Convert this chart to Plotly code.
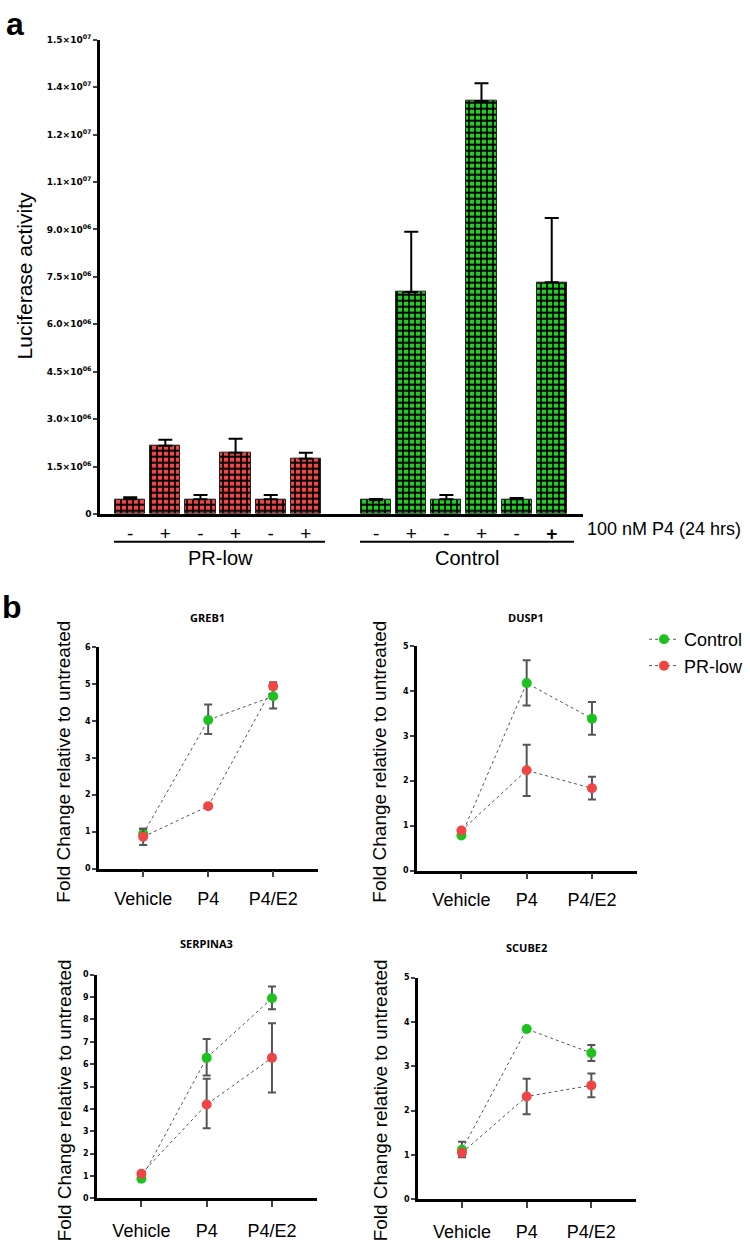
import plotly.graph_objects as go

W, H = 750, 1246

# ---------------- Panel a data ----------------
treat_labels = ["-", "+", "-", "+", "-", "+"]
control_labels = ["-", "+", "-", "+", "-", "<b>+</b>"]
prlow_pos = [0, 1, 2, 3, 4, 5]
control_pos = [7, 8, 9, 10, 11, 12]
prlow_means = [0.47e6, 2.16e6, 0.47e6, 1.94e6, 0.47e6, 1.75e6]
prlow_err = [0.06e6, 0.19e6, 0.13e6, 0.44e6, 0.13e6, 0.19e6]
control_means = [0.44e6, 7.02e6, 0.47e6, 13.06e6, 0.47e6, 7.33e6]
control_err = [0.04e6, 1.91e6, 0.13e6, 0.56e6, 0.04e6, 2.03e6]
a_ytickvals = [0, 1.5e6, 3.0e6, 4.5e6, 6.0e6, 7.5e6, 9.0e6, 10.5e6, 12e6, 13.5e6, 15e6]
a_yticktext = ["0", "1.5×10<sup>06</sup>", "3.0×10<sup>06</sup>", "4.5×10<sup>06</sup>",
               "6.0×10<sup>06</sup>", "7.5×10<sup>06</sup>", "9.0×10<sup>06</sup>",
               "1.1×10<sup>07</sup>", "1.2×10<sup>07</sup>", "1.4×10<sup>07</sup>",
               "1.5×10<sup>07</sup>"]

# ---------------- Panel b data ----------------
conditions = ["Vehicle", "P4", "P4/E2"]
cond_pos = [0, 1, 2]

greb1_control = [0.94, 4.02, 4.66]
greb1_control_hi = [0.14, 0.42, 0.32]
greb1_control_lo = [0.10, 0.38, 0.33]
greb1_prlow = [0.86, 1.69, 4.93]
greb1_prlow_hi = [0.22, 0.0, 0.11]
greb1_prlow_lo = [0.22, 0.0, 0.08]

dusp1_control = [0.78, 4.17, 3.38]
dusp1_control_hi = [0.0, 0.51, 0.37]
dusp1_control_lo = [0.0, 0.50, 0.36]
dusp1_prlow = [0.89, 2.23, 1.83]
dusp1_prlow_hi = [0.0, 0.57, 0.26]
dusp1_prlow_lo = [0.0, 0.57, 0.25]

serp_control = [0.88, 6.28, 8.94]
serp_control_hi = [0.0, 0.84, 0.53]
serp_control_lo = [0.0, 0.79, 0.49]
serp_prlow = [1.10, 4.20, 6.28]
serp_prlow_hi = [0.0, 1.15, 1.55]
serp_prlow_lo = [0.0, 1.06, 1.55]

scube_control = [1.12, 3.84, 3.30]
scube_control_hi = [0.18, 0.0, 0.18]
scube_control_lo = [0.12, 0.0, 0.18]
scube_prlow = [1.05, 2.32, 2.57]
scube_prlow_hi = [0.0, 0.40, 0.27]
scube_prlow_lo = [0.10, 0.40, 0.27]

b_panels = [
    ("GREB1", greb1_control, greb1_control_hi, greb1_control_lo,
     greb1_prlow, greb1_prlow_hi, greb1_prlow_lo, [0, 1, 2, 3, 4, 5, 6],
     ["0", "1", "2", "3", "4", "5", "6"], 6),
    ("DUSP1", dusp1_control, dusp1_control_hi, dusp1_control_lo,
     dusp1_prlow, dusp1_prlow_hi, dusp1_prlow_lo, [0, 1, 2, 3, 4, 5],
     ["0", "1", "2", "3", "4", "5"], 5),
    ("SERPINA3", serp_control, serp_control_hi, serp_control_lo,
     serp_prlow, serp_prlow_hi, serp_prlow_lo, list(range(11)),
     ["0", "1", "2", "3", "4", "5", "6", "7", "8", "9", "0"], 10),
    ("SCUBE2", scube_control, scube_control_hi, scube_control_lo,
     scube_prlow, scube_prlow_hi, scube_prlow_lo, [0, 1, 2, 3, 4, 5],
     ["0", "1", "2", "3", "4", "5"], 5),
]

RED = "#ef4545"
GREEN = "#1ec21e"
BAR_RED = "#f04646"
BAR_GREEN = "#20d020"


def px(x):
    return x / W


def py(y):
    return 1 - y / H


fig = go.Figure()

# Panel a bars
fig.add_trace(go.Bar(
    x=prlow_pos, y=prlow_means, width=0.86,
    marker=dict(color=BAR_RED, line=dict(color="#222", width=1),
                pattern=dict(shape="+", fgcolor="black", bgcolor=BAR_RED,
                             size=6, solidity=0.5, fillmode="replace")),
    error_y=dict(type="data", array=prlow_err, arrayminus=[0] * 6, symmetric=False,
                 color="black", thickness=2, width=7),
    xaxis="x", yaxis="y", showlegend=False))
fig.add_trace(go.Bar(
    x=control_pos, y=control_means, width=0.86,
    marker=dict(color=BAR_GREEN, line=dict(color="#222", width=1),
                pattern=dict(shape="+", fgcolor="black", bgcolor=BAR_GREEN,
                             size=6, solidity=0.5, fillmode="replace")),
    error_y=dict(type="data", array=control_err, arrayminus=[0] * 6, symmetric=False,
                 color="black", thickness=2, width=7),
    xaxis="x", yaxis="y", showlegend=False))

# Panel b axes geometry (pixels)
b_geom = [
    # x0, x1, y_zero, y_top, label standoff
    (99, 318, 870, 646, 6),
    (417, 637, 872, 645, 5),
    (97, 317, 1203, 977, 8),
    (418, 636, 1204, 980, 8),
]

layout_axes = {}
for i, (name, c, chi, clo, p, phi, plo, tv, tt, ymax) in enumerate(b_panels):
    k = i + 2
    xa, ya = f"x{k}", f"y{k}"
    first = (i == 0)
    fig.add_trace(go.Scatter(
        x=cond_pos, y=c, mode="lines+markers", name="Control",
        line=dict(color="#555", width=1, dash="dot"),
        marker=dict(color=GREEN, size=10),
        error_y=dict(type="data", array=chi, arrayminus=clo, symmetric=False,
                     color="#555", thickness=2, width=4),
        xaxis=xa, yaxis=ya, showlegend=first, legendrank=1))
    fig.add_trace(go.Scatter(
        x=cond_pos, y=p, mode="lines+markers", name="PR-low",
        line=dict(color="#555", width=1, dash="dot"),
        marker=dict(color=RED, size=10),
        error_y=dict(type="data", array=phi, arrayminus=plo, symmetric=False,
                     color="#555", thickness=2, width=4),
        xaxis=xa, yaxis=ya, showlegend=first, legendrank=2))
    x0, x1, yz, yt, so = b_geom[i]
    layout_axes[f"xaxis{k}"] = dict(
        domain=[px(x0), px(x1)], range=[-0.68, 2.69], anchor=ya,
        tickvals=cond_pos, ticktext=conditions, ticks="outside", ticklen=6,
        tickwidth=2, showline=True, linewidth=2.5, linecolor="black",
        showgrid=False, zeroline=False, ticklabelstandoff=so,
        tickfont=dict(family="Arial", size=18, color="black"))
    layout_axes[f"yaxis{k}"] = dict(
        domain=[py(yz), py(yt)], range=[0, ymax], anchor=xa,
        tickvals=tv, ticktext=tt, ticks="outside", ticklen=4, tickwidth=2,
        showline=True, linewidth=2.5, linecolor="black", showgrid=False,
        zeroline=False,
        tickfont=dict(family="DejaVu Sans", size=8, color="black", weight="bold"))

fig.update_layout(
    width=W, height=H, margin=dict(l=0, r=0, t=0, b=0),
    paper_bgcolor="white", plot_bgcolor="white",
    bargap=0,
    xaxis=dict(domain=[px(100), px(583)], range=[-0.86, 12.89], anchor="y",
               tickvals=prlow_pos + control_pos,
               ticktext=treat_labels + control_labels,
               ticks="", showline=True, linewidth=2.5, linecolor="black",
               showgrid=False, zeroline=False, ticklabelstandoff=0,
               tickfont=dict(family="Arial", size=19, color="black")),
    yaxis=dict(domain=[py(512), py(33)], range=[0, 15e6], anchor="x",
               tickvals=a_ytickvals, ticktext=a_yticktext, ticks="outside",
               ticklen=4, tickwidth=2, showline=True, linewidth=2.5,
               linecolor="black", showgrid=False, zeroline=False,
               tickfont=dict(family="DejaVu Sans", size=9, color="black", weight="bold")),
    legend=dict(x=px(644), y=py(620), xanchor="left", yanchor="top",
                font=dict(family="Arial", size=18, color="black"),
                bgcolor="rgba(0,0,0,0)", itemwidth=30, tracegroupgap=8),
    **layout_axes,
)

annots = [
    dict(text="<b>a</b>", x=px(4), y=py(17), xanchor="left", yanchor="middle",
         font=dict(family="Arial", size=32, color="black")),
    dict(text="<b>b</b>", x=px(0), y=py(606), xanchor="left", yanchor="middle",
         font=dict(family="Arial", size=32, color="black")),
    dict(text="Luciferase activity", x=px(24), y=py(272), textangle=-90,
         xanchor="center", yanchor="middle",
         font=dict(family="Arial", size=21, color="black")),
    dict(text="100 nM P4 (24 hrs)", x=px(585), y=py(527), xanchor="left",
         yanchor="middle", font=dict(family="Arial", size=18, color="black")),
    dict(text="PR-low", x=px(220), y=py(556), xanchor="center", yanchor="middle",
         font=dict(family="Arial", size=20, color="black")),
    dict(text="Control", x=px(467), y=py(556), xanchor="center", yanchor="middle",
         font=dict(family="Arial", size=20, color="black")),
]
title_pos = [(207, 616), (526, 616), (206, 946), (526, 950)]
ytitle_pos = [(64, 762), (380, 762), (64, 1104), (380, 1104)]
for i, panel in enumerate(b_panels):
    tx, ty = title_pos[i]
    annots.append(dict(text=f"<b>{panel[0]}</b>", x=px(tx), y=py(ty),
                       xanchor="center", yanchor="middle",
                       font=dict(family="Open Sans", size=11, color="black")))
    ax, ay = ytitle_pos[i]
    annots.append(dict(text="Fold Change relative to untreated", x=px(ax), y=py(ay),
                       textangle=-90, xanchor="center", yanchor="middle",
                       font=dict(family="Arial", size=19, color="black")))
for a in annots:
    a.update(xref="paper", yref="paper", showarrow=False)
fig.update_layout(annotations=annots)

fig.update_layout(shapes=[
    dict(type="line", xref="paper", yref="paper", x0=px(114), x1=px(325),
         y0=py(540), y1=py(540), line=dict(color="black", width=2)),
    dict(type="line", xref="paper", yref="paper", x0=px(360), x1=px(574),
         y0=py(540), y1=py(540), line=dict(color="black", width=2)),
])

fig.write_html("out.html",
               config={"displayModeBar": False},
               post_script="document.body.style.margin='0px';"
                           "document.body.style.overflow='hidden';")
